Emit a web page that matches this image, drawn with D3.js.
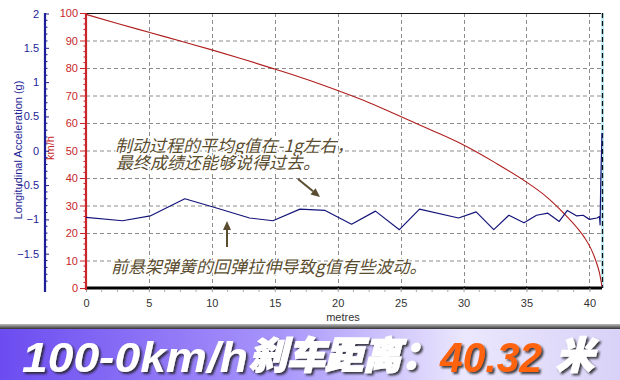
<!DOCTYPE html>
<html>
<head>
<meta charset="utf-8">
<script src="https://cdn.jsdelivr.net/npm/d3@7"></script>
<style>
  html, body { margin: 0; padding: 0; background: #ffffff; }
  svg { display: block; }
</style>
</head>
<body>
<svg id="chart" width="620" height="380"></svg>
<script>
// ---------- data ----------
const speedDistance = [0, 2.5, 5, 7.5, 10, 12.5, 15, 17.5, 20, 22.5, 25, 27.5, 30, 32.5, 35, 36.5, 38, 39, 39.6, 40.1, 40.5, 40.8, 41.0];
const speedValues   = [99.5, 96.2, 93, 89.8, 86.6, 83.2, 79.6, 75.9, 71.8, 67.4, 62.4, 57.3, 52, 45.6, 38.5, 33.5, 27, 22, 18.4, 14.5, 10, 5.5, 0.5];

const accelDistance = [0, 2.9, 5.1, 7.85, 10.1, 13.0, 14.85, 17.0, 19.0, 21.1, 23.0, 24.9, 26.5, 29.6, 31.0, 32.4, 33.6, 34.8, 35.8, 36.7, 37.6, 38.25, 39.0, 39.5, 40.0, 40.6, 40.8, 40.85, 40.9, 41.0];
const accelValues   = [-0.97, -1.02, -0.95, -0.70, -0.82, -0.98, -1.02, -0.85, -0.87, -1.07, -0.88, -1.15, -0.85, -0.98, -0.89, -1.15, -0.94, -1.05, -0.94, -0.91, -1.03, -0.87, -0.95, -0.94, -1.0, -0.98, -0.96, -1.08, -0.47, 0.26];

const xTickValues     = [0, 5, 10, 15, 20, 25, 30, 35, 40];
const speedTickValues = [0, 10, 20, 30, 40, 50, 60, 70, 80, 90, 100];
const accelTickValues = [2, 1.5, 1, 0.5, 0, -0.5, -1, -1.5];

const xTitle = "metres";
const speedTitle = "km/h";
const accelTitle = "Longitudinal Acceleration (g)";
const note1 = ["制动过程的平均g值在-1g左右，", "最终成绩还能够说得过去。"];
const note2 = "前悬架弹簧的回弹拉伸导致g值有些波动。";
const bannerParts = ["100-0km/h", "刹车距离：", "40.32", "米"];

// ---------- layout ----------
const svg = d3.select("#chart");
const L = 86, R = 602, T = 13, B = 288;

const x = d3.scaleLinear().domain([0, 41]).range([L, R]);
const ySpeed = d3.scaleLinear().domain([0, 100]).range([B, T]);
const yAccel = d3.scaleLinear().domain([-2, 2]).range([B, T + 0.5]);

const defs = svg.append("defs");
const f = defs.append("filter").attr("id", "shadow").attr("x", "-10%").attr("y", "-20%").attr("width", "130%").attr("height", "150%");
f.append("feDropShadow").attr("dx", 2).attr("dy", 2).attr("stdDeviation", 1.2).attr("flood-color", "#222").attr("flood-opacity", 0.85);

const AXFONT = "'Liberation Sans', Arial, sans-serif";

// gridlines
const grid = svg.append("g").attr("stroke", "#8c8c8c").attr("stroke-dasharray", "4,3").attr("stroke-width", 1);
grid.selectAll("line.h").data(speedTickValues.filter(d => d > 0 && d < 100)).join("line")
  .attr("x1", L).attr("x2", R).attr("y1", d => ySpeed(d) + 0.5).attr("y2", d => ySpeed(d) + 0.5);
grid.selectAll("line.v").data(xTickValues.filter(d => d > 0)).join("line")
  .attr("y1", T).attr("y2", B).attr("x1", d => Math.round(x(d)) + 0.5).attr("x2", d => Math.round(x(d)) + 0.5);

// top frame
svg.append("line").attr("x1", L).attr("x2", R).attr("y1", T + 0.5).attr("y2", T + 0.5).attr("stroke", "#111").attr("stroke-width", 1.2);

// right cursor line
svg.append("line").attr("x1", R + 0.5).attr("x2", R + 0.5).attr("y1", T).attr("y2", B)
  .attr("stroke", "#c4eef6").attr("stroke-width", 3);
svg.append("line").attr("x1", R + 0.5).attr("x2", R + 0.5).attr("y1", T).attr("y2", B)
  .attr("stroke", "#111").attr("stroke-width", 1.3).attr("stroke-dasharray", "5,3");

// x axis
const xAxis = d3.axisBottom(x).tickValues(xTickValues).tickSize(4).tickPadding(7);
const gx = svg.append("g").attr("transform", `translate(0,${B})`).call(xAxis);
gx.select(".domain").attr("stroke", "#000").attr("stroke-width", 3).attr("d", `M${L},0H${R}`);
gx.selectAll(".tick line").attr("stroke", "#999");
gx.selectAll(".tick text").attr("font-family", AXFONT).attr("font-size", 11).attr("fill", "#333");
const minorX = d3.range(0, 41, 1.25).filter(d => d % 5 !== 0);
gx.selectAll("line.minor").data(minorX).join("line").attr("class", "minor")
  .attr("x1", d => x(d)).attr("x2", d => x(d)).attr("y1", 2).attr("y2", 4).attr("stroke", "#aaa");
svg.append("text").attr("x", 343).attr("y", 321).attr("text-anchor", "middle")
  .attr("font-family", AXFONT).attr("font-size", 11).attr("fill", "#333").text(xTitle);

// speed axis (red)
const RED = "#c8262a";
const ySAxis = d3.axisLeft(ySpeed).tickValues(speedTickValues).tickSize(6).tickPadding(2);
const gs = svg.append("g").attr("transform", `translate(${L},0)`).call(ySAxis);
gs.select(".domain").attr("stroke", RED).attr("stroke-width", 2.2).attr("d", `M0,${T}V${B + 2}`);
gs.selectAll(".tick line").attr("stroke", RED);
gs.selectAll(".tick text").attr("font-family", AXFONT).attr("font-size", 11).attr("fill", RED);
gs.selectAll("line.minor").data(d3.range(2, 100, 2).filter(d => d % 10 !== 0)).join("line").attr("class", "minor")
  .attr("x1", -2.5).attr("x2", 0).attr("y1", d => ySpeed(d)).attr("y2", d => ySpeed(d)).attr("stroke", RED);
svg.append("text").attr("transform", `translate(54,148) rotate(-90)`).attr("text-anchor", "middle")
  .attr("font-family", AXFONT).attr("font-size", 11).attr("fill", RED).text(speedTitle);

// acceleration axis (blue)
const BLUE = "#1e1e96";
const AX = 45;
const yAAxis = d3.axisLeft(yAccel).tickValues(accelTickValues).tickFormat(d3.format("~g")).tickSize(-4).tickPadding(6);
const ga = svg.append("g").attr("transform", `translate(${AX},0)`).call(yAAxis);
ga.select(".domain").attr("stroke", BLUE).attr("stroke-width", 2.2).attr("d", `M0,${T}V${B + 4}`);
ga.selectAll(".tick line").attr("stroke", BLUE);
ga.selectAll(".tick text").attr("font-family", AXFONT).attr("font-size", 11).attr("fill", BLUE);
ga.selectAll("line.minor").data(d3.range(-19, 20, 1).map(d => d / 10).filter(d => Math.abs(d * 2 - Math.round(d * 2)) > 1e-6)).join("line").attr("class", "minor")
  .attr("x1", 0).attr("x2", 2.5).attr("y1", d => yAccel(d)).attr("y2", d => yAccel(d)).attr("stroke", BLUE);
svg.append("text").attr("transform", `translate(22,150) rotate(-90)`).attr("text-anchor", "middle")
  .attr("font-family", AXFONT).attr("font-size", 11).attr("fill", BLUE).text(accelTitle);

// series
const speedLine = d3.line().x((d, i) => x(speedDistance[i])).y(d => ySpeed(d)).curve(d3.curveMonotoneX);
svg.append("path").datum(speedValues).attr("d", speedLine)
  .attr("fill", "none").attr("stroke", "#b01e1e").attr("stroke-width", 1.1);

const accelLine = d3.line().x((d, i) => x(accelDistance[i])).y(d => yAccel(d));
svg.append("path").datum(accelValues).attr("d", accelLine)
  .attr("fill", "none").attr("stroke", "#14147a").attr("stroke-width", 1.2).attr("stroke-linejoin", "round");

// annotations
const NOTE = "#5a4c2e";
const noteFont = "'Noto Sans CJK SC', sans-serif";
function note(txt, px, py) {
  svg.append("text").attr("x", px).attr("y", py).attr("font-family", noteFont).attr("font-size", 17)
    .attr("font-style", "italic").attr("fill", NOTE).attr("stroke", "#fff").attr("stroke-width", 2.5)
    .attr("paint-order", "stroke").attr("stroke-linejoin", "round").text(txt);
}
note(note1[0], 115, 152);
note(note1[1], 116, 169);
note(note2, 111, 273);

function arrow(x1, y1, x2, y2) {
  const ang = Math.atan2(y2 - y1, x2 - x1);
  const len = 9, wid = 4;
  const bx = x2 - len * Math.cos(ang), by = y2 - len * Math.sin(ang);
  svg.append("line").attr("x1", x1).attr("y1", y1).attr("x2", bx).attr("y2", by)
    .attr("stroke", NOTE).attr("stroke-width", 2);
  const px = -Math.sin(ang) * wid, py = Math.cos(ang) * wid;
  svg.append("path").attr("d", `M${x2},${y2}L${bx + px},${by + py}L${bx - px},${by - py}Z`).attr("fill", NOTE);
}
arrow(298, 179, 320, 197);
arrow(227, 247, 227, 221);

// banner
const grad = defs.append("linearGradient").attr("id", "bannerGrad").attr("x1", "0%").attr("x2", "100%");
grad.append("stop").attr("offset", "0%").attr("stop-color", "#6c4cf0");
grad.append("stop").attr("offset", "45%").attr("stop-color", "#a895fb");
grad.append("stop").attr("offset", "75%").attr("stop-color", "#ebe7fd");
grad.append("stop").attr("offset", "100%").attr("stop-color", "#d9d2f8");
const sep = defs.append("linearGradient").attr("id", "sepGrad").attr("x1", "0").attr("x2", "0").attr("y1", "0").attr("y2", "1");
sep.append("stop").attr("offset", "0%").attr("stop-color", "#bdbdbd");
sep.append("stop").attr("offset", "100%").attr("stop-color", "#333");
svg.append("rect").attr("x", 0).attr("y", 324).attr("width", 620).attr("height", 5).attr("fill", "url(#sepGrad)");
svg.append("rect").attr("x", 0).attr("y", 329).attr("width", 620).attr("height", 51).attr("fill", "url(#bannerGrad)");

const bannerG = svg.append("g").attr("filter", "url(#shadow)").attr("font-style", "italic").attr("font-weight", 900);
bannerG.append("text").attr("x", 22).attr("y", 372).attr("font-family", "'Liberation Sans', Arial, sans-serif")
  .attr("font-size", 43).attr("textLength", 226).attr("lengthAdjust", "spacingAndGlyphs").attr("fill", "#fff").text(bannerParts[0]);
bannerG.append("text").attr("x", 249).attr("y", 369).attr("font-family", "'Noto Sans CJK SC', sans-serif")
  .attr("font-size", 38).attr("fill", "#fff").attr("stroke", "#fff").attr("stroke-width", 1.4).text(bannerParts[1]);
bannerG.append("text").attr("x", 440).attr("y", 372).attr("font-family", "'Liberation Sans', Arial, sans-serif")
  .attr("font-size", 43).attr("textLength", 102).attr("lengthAdjust", "spacingAndGlyphs").attr("fill", "#ff6410").text(bannerParts[2]);
bannerG.append("text").attr("x", 556).attr("y", 369).attr("font-family", "'Noto Sans CJK SC', sans-serif")
  .attr("font-size", 38).attr("fill", "#fff").attr("stroke", "#fff").attr("stroke-width", 1.4).text(bannerParts[3]);
</script>
</body>
</html>
